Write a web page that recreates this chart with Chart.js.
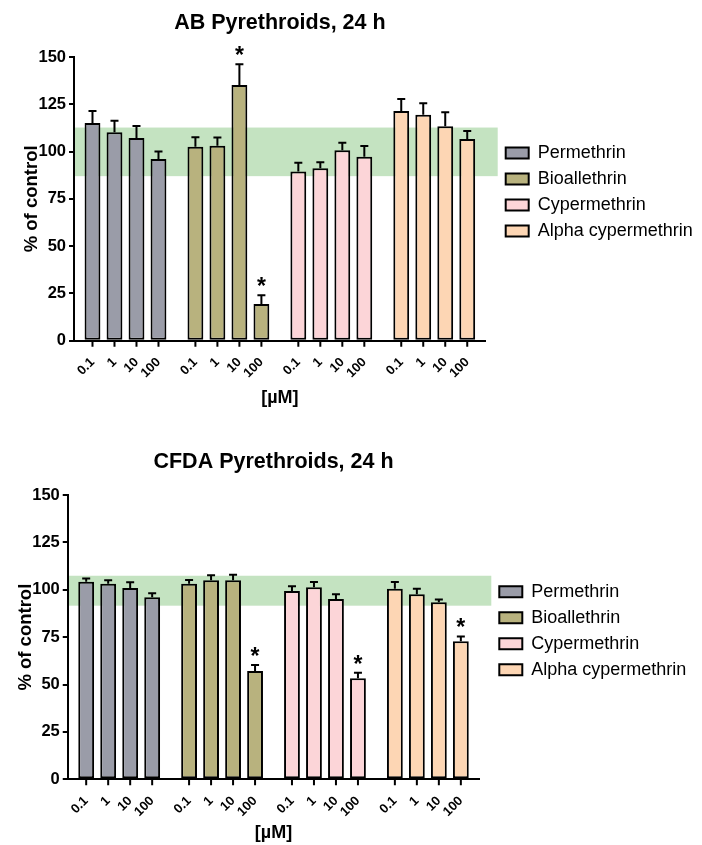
<!DOCTYPE html>
<html>
<head>
<meta charset="utf-8">
<title>Pyrethroids, 24 h</title>
<script src="https://cdn.jsdelivr.net/npm/chart.js@4.4.1/dist/chart.umd.min.js"></script>
<style>
  body { margin: 0; background: #fff; }
  canvas { display: block; }
</style>
</head>
<body>
<canvas id="abChart" width="702" height="410"></canvas>
<canvas id="cfdaChart" width="702" height="435"></canvas>
<script>
const concentrations = ['0.1', '1', '10', '100'];
const compounds = ['Permethrin', 'Bioallethrin', 'Cypermethrin', 'Alpha cypermethrin'];
const compoundColors = ['#9a9ca8', '#b8b27e', '#fcd5d8', '#fdd6b4'];

// AB assay: mean % of control and SEM at 0.1 / 1 / 10 / 100 uM
const abPermethrin = [115.1, 110.2, 107.2, 96.1];
const abPermethrinSem = [6.3, 6.1, 6.3, 4.0];
const abBioallethrin = [102.6, 103.1, 135.2, 19.4];
const abBioallethrinSem = [5.0, 4.4, 11.0, 4.6];
const abCypermethrin = [89.4, 91.2, 100.7, 97.3];
const abCypermethrinSem = [4.7, 3.1, 4.0, 5.7];
const abAlphaCypermethrin = [121.5, 119.4, 113.4, 106.7];
const abAlphaCypermethrinSem = [6.3, 6.1, 7.4, 4.2];
const abSignificant = [[0, 0, 0, 0], [0, 0, 1, 1], [0, 0, 0, 0], [0, 0, 0, 0]];
const abBand = [87, 112.7];

// CFDA assay
const cfdaPermethrin = [104.2, 103.2, 100.9, 96.1];
const cfdaPermethrinSem = [1.8, 1.8, 3.0, 2.0];
const cfdaBioallethrin = [103.2, 105.0, 105.0, 57.1];
const cfdaBioallethrinSem = [1.9, 2.6, 2.9, 3.2];
const cfdaCypermethrin = [99.3, 101.3, 95.1, 53.3];
const cfdaCypermethrinSem = [2.5, 2.8, 2.5, 2.9];
const cfdaAlphaCypermethrin = [100.5, 97.7, 93.4, 72.8];
const cfdaAlphaCypermethrinSem = [3.6, 2.8, 1.5, 2.6];
const cfdaSignificant = [[0, 0, 0, 0], [0, 0, 0, 1], [0, 0, 0, 1], [0, 0, 0, 1]];
const cfdaBand = [91.6, 107.4];

const FONT = '"Liberation Sans", Arial, Helvetica, sans-serif';
Chart.defaults.font.family = FONT;
Chart.defaults.color = '#000';

// green band, error bars, asterisks and the per-bar concentration ticks
const extras = {
  id: 'extras',
  beforeDraw(chart, args, opts) {
    const {ctx, chartArea, scales: {y}} = chart;
    const top = y.getPixelForValue(opts.band[1]);
    const bottom = y.getPixelForValue(opts.band[0]);
    ctx.save();
    ctx.fillStyle = '#c4e3c1';
    ctx.fillRect(chartArea.left, top, chartArea.width + opts.overhang, bottom - top);
    ctx.restore();
  },
  afterDatasetsDraw(chart) {
    const {ctx, chartArea, scales: {y}} = chart;
    const base = chartArea.bottom;
    ctx.save();
    ctx.strokeStyle = '#000';
    ctx.fillStyle = '#000';
    ctx.lineWidth = 2;
    chart.data.datasets.forEach((ds, c) => {
      chart.getDatasetMeta(c).data.forEach((bar, j) => {
        const errTop = y.getPixelForValue(ds.data[j] + ds.errors[j]);
        ctx.beginPath();
        ctx.moveTo(bar.x, bar.y);
        ctx.lineTo(bar.x, errTop);
        ctx.moveTo(bar.x - 4, errTop);
        ctx.lineTo(bar.x + 4, errTop);
        ctx.moveTo(bar.x, base);
        ctx.lineTo(bar.x, base + 6);
        ctx.stroke();

        if (ds.sig[j]) {
          ctx.font = 'bold 23px ' + FONT;
          ctx.textAlign = 'center';
          ctx.textBaseline = 'alphabetic';
          ctx.fillText('*', bar.x, errTop - 1);
        }

        ctx.save();
        ctx.translate(bar.x, base + 19.5);
        ctx.rotate(-Math.PI / 4);
        ctx.font = 'bold 13px ' + FONT;
        ctx.textAlign = 'right';
        ctx.textBaseline = 'middle';
        ctx.fillText(ds.label, 0, 0);
        ctx.restore();
      });
    });
    ctx.restore();
  }
};

function makeChart(id, means, sems, sig, band, titleText, lay) {
  const datasets = concentrations.map((conc, c) => ({
    label: conc,
    data: means.map(m => m[c]),
    errors: sems.map(s => s[c]),
    sig: sig.map(s => s[c]),
    backgroundColor: compoundColors,
    borderColor: '#000',
    borderWidth: 2,
    borderSkipped: false,
    categoryPercentage: 0.855,
    barPercentage: 0.72
  }));

  return new Chart(document.getElementById(id), {
    type: 'bar',
    data: { labels: compounds, datasets },
    options: {
      responsive: false,
      animation: false,
      devicePixelRatio: 1,
      layout: { padding: lay.padding },
      scales: {
        x: {
          grid: { display: false, drawTicks: false, tickLength: 0 },
          border: { display: true, color: '#000', width: 2 },
          ticks: { display: false },
          title: {
            display: true, text: '[µM]', color: '#000',
            font: { size: 18, weight: 'bold' },
            padding: lay.xTitlePadding
          }
        },
        y: {
          min: 0, max: 150,
          ticks: { stepSize: 25, padding: 3, color: '#000', font: { size: 16.5, weight: 'bold' } },
          grid: { drawOnChartArea: false, drawTicks: true, tickLength: 5, color: '#000', lineWidth: 2 },
          border: { display: true, color: '#000', width: 2 },
          title: {
            display: true, text: '% of control', color: '#000',
            font: { size: 18.5, weight: 'bold' },
            padding: { top: 0, bottom: -7.5 }
          }
        },
        gap: {
          type: 'linear', position: 'right', display: true,
          grid: { display: false, drawTicks: false }, border: { display: false }, ticks: { display: false },
          afterFit(s) { s.width = 12; }
        }
      },
      plugins: {
        title: {
          display: true, text: titleText, fullSize: false, color: '#000',
          font: { size: 21.5, weight: 'bold' },
          padding: lay.titlePadding
        },
        legend: {
          position: 'right',
          align: 'start',
          fullSize: false,
          maxWidth: 200,
          title: { display: true, text: '', font: { size: 10, lineHeight: 1 }, padding: { top: lay.legendTop, bottom: 0 } },
          labels: {
            boxWidth: 23, boxHeight: 11, padding: 8, color: '#000',
            font: { size: 18 },
            generateLabels: () => compounds.map((name, j) => ({
              text: name, fillStyle: compoundColors[j], strokeStyle: '#000',
              lineWidth: 2, hidden: false, datasetIndex: 0
            }))
          }
        },
        tooltip: { enabled: false },
        extras: { band, overhang: 12 }
      }
    },
    plugins: [extras]
  });
}

makeChart('abChart',
  [abPermethrin, abBioallethrin, abCypermethrin, abAlphaCypermethrin],
  [abPermethrinSem, abBioallethrinSem, abCypermethrinSem, abAlphaCypermethrinSem],
  abSignificant, abBand, 'AB Pyrethroids, 24 h',
  { padding: { left: 20.8, right: 4.3, top: 0, bottom: 0 },
    titlePadding: { top: 10.1, bottom: 21.1 },
    xTitlePadding: { top: 46.5, bottom: 1.2 },
    legendTop: 69 });

makeChart('cfdaChart',
  [cfdaPermethrin, cfdaBioallethrin, cfdaCypermethrin, cfdaAlphaCypermethrin],
  [cfdaPermethrinSem, cfdaBioallethrinSem, cfdaCypermethrinSem, cfdaAlphaCypermethrinSem],
  cfdaSignificant, cfdaBand, 'CFDA Pyrethroids, 24 h',
  { padding: { left: 14.5, right: 10.7, top: 0, bottom: 0 },
    titlePadding: { top: 38.8, bottom: 20.4 },
    xTitlePadding: { top: 42.9, bottom: 1.2 },
    legendTop: 69.7 });
</script>
</body>
</html>
